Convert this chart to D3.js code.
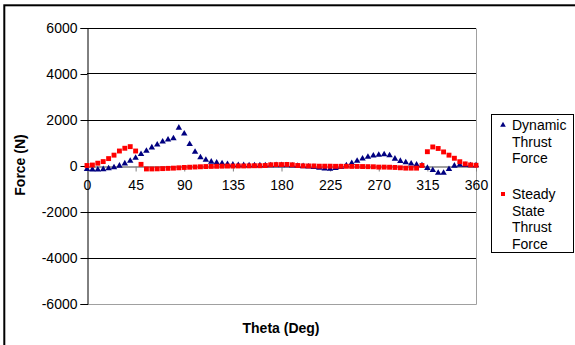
<!DOCTYPE html>
<html lang="en">
  <head>
    <meta charset="UTF-8" />
    <title>Thrust force</title>
    <script src="https://cdn.jsdelivr.net/npm/d3@7"></script>
    <style>
      body { margin: 0; background: #fff; font-family: "Liberation Sans", Arial, sans-serif; }
      svg text { font-family: "Liberation Sans", Arial, sans-serif; }
    </style>
  </head>
  <body>
    <div id="chart"></div>
    <script>
      // angle every 5 degrees, 0..360
      var theta = [
        0, 5, 10, 15, 20, 25, 30, 35, 40, 45, 50, 55, 60, 65, 70, 75, 80, 85, 90, 95,
        100, 105, 110, 115, 120, 125, 130, 135, 140, 145, 150, 155, 160, 165, 170, 175,
        180, 185, 190, 195, 200, 205, 210, 215, 220, 225, 230, 235, 240, 245, 250, 255,
        260, 265, 270, 275, 280, 285, 290, 295, 300, 305, 310, 315, 320, 325, 330, 335,
        340, 345, 350, 355, 360
      ];
      var dynamicThrust = [
        -160, -175, -185, -165, -130, -85, -15, 85, 200, 330, 490, 635, 780, 905, 1035, 1120, 1180, 1640, 1380, 930,
        590, 350, 240, 160, 125, 90, 60, 30, 15, 10, 5, 0, 0, 0, 0, 10,
        10, 0, -10, -20, -35, -50, -70, -100, -135, -150, -120, -70, 0, 100, 200, 300,
        370, 430, 460, 480, 440, 290, 195, 130, 80, 35, 0, -110, -200, -325, -325, -160,
        -15, 30, 15, 5, 0
      ];
      var steadyThrust = [
        0, 20, 100, 170, 300, 450, 630, 750, 820, 630, 50, -150, -150, -145, -135, -125, -115, -100, -85, -75,
        -65, -55, -45, -40, -35, -30, -25, -25, -20, -20, -15, -10, -10, 0, 30, 40,
        40, 45, 30, 0, -15, -20, -20, -30, -30, -30, -35, -35, -35, -40, -40, -45,
        -50, -55, -70, -70, -75, -85, -100, -115, -115, -115, 0, 600, 806, 740, 590, 450,
        315, 165, 70, 25, 10
      ];
      var xTicks = [0, 45, 90, 135, 180, 225, 270, 315, 360];
      var yTicks = [-6000, -4000, -2000, 0, 2000, 4000, 6000];
      var seriesNames = [["Dynamic", "Thrust", "Force"], ["Steady", "State", "Thrust", "Force"]];

      var W = 575, H = 345;
      var svg = d3.select("#chart").append("svg").attr("width", W).attr("height", H);

      // chart border
      svg.append("rect")
        .attr("x", 4.3).attr("y", 5.3)
        .attr("width", 600).attr("height", 400)
        .attr("fill", "none").attr("stroke", "#000").attr("stroke-width", 2);

      var x = d3.scaleLinear().domain([0, 360]).range([87, 476]);
      var y = d3.scaleLinear().domain([-6000, 6000]).range([303.5, 27.5]);

      // gridlines
      svg.append("g")
        .selectAll("line")
        .data(yTicks.filter(function (d) { return d !== 0 && d !== -6000; }))
        .enter()
        .append("line")
        .attr("x1", x(0)).attr("x2", x(360))
        .attr("y1", function (d) { return Math.round(y(d)) + 0.5; })
        .attr("y2", function (d) { return Math.round(y(d)) + 0.5; })
        .attr("stroke", "#000");

      // plot border right / bottom (grey)
      svg.append("path")
        .attr("d", "M" + (x(360) + 0.5) + "," + (Math.round(y(6000)) + 0.5) +
          "V" + (Math.round(y(-6000)) + 0.5) + "H" + x(0))
        .attr("fill", "none").attr("stroke", "#a0a0a0");

      // y axis (plain hyphen for negatives, like the original)
      var yAxis = svg.append("g")
        .attr("transform", "translate(" + (x(0) + 0.5) + ",0.5)")
        .call(d3.axisLeft(y).tickValues(yTicks).tickSize(7).tickPadding(3)
          .tickFormat(function (d) { return String(d); }));
      yAxis.select(".domain").attr("stroke", "#000");
      yAxis.selectAll(".tick line").attr("stroke", "#000");
      yAxis.selectAll("text").style("font-size", "14px").attr("fill", "#000");

      // x axis at zero
      var xAxis = svg.append("g")
        .attr("transform", "translate(0," + (Math.round(y(0)) + 0.5) + ")")
        .call(d3.axisBottom(x).tickValues(xTicks).tickSize(5).tickPadding(9).tickSizeOuter(0));
      xAxis.select(".domain").attr("stroke", "#808080").attr("stroke-width", 1.5);
      xAxis.selectAll(".tick line").attr("stroke", "#808080");
      xAxis.selectAll("text").style("font-size", "14px").attr("fill", "#000");

      var tri = d3.symbol().type(d3.symbolTriangle).size(18);
      var sq = d3.symbol().type(d3.symbolSquare).size(24);

      svg.append("g")
        .selectAll("path")
        .data(theta)
        .enter()
        .append("path")
        .attr("d", tri)
        .attr("transform", function (d, i) { return "translate(" + x(d) + "," + y(dynamicThrust[i]) + ")"; })
        .attr("fill", "#000080");

      svg.append("g")
        .selectAll("path")
        .data(theta)
        .enter()
        .append("path")
        .attr("d", sq)
        .attr("transform", function (d, i) { return "translate(" + x(d) + "," + y(steadyThrust[i]) + ")"; })
        .attr("fill", "#ff0000");

      // axis titles
      svg.append("text")
        .attr("x", 281).attr("y", 333)
        .attr("text-anchor", "middle")
        .style("font-size", "14px").style("font-weight", "bold")
        .text("Theta (Deg)");

      svg.append("text")
        .attr("transform", "translate(25,165) rotate(-90)")
        .attr("text-anchor", "middle")
        .style("font-size", "14px").style("font-weight", "bold")
        .text("Force (N)");

      // legend
      var legend = svg.append("g");
      legend.append("rect")
        .attr("x", 491.5).attr("y", 114.5).attr("width", 82).attr("height", 138)
        .attr("fill", "#fff").attr("stroke", "#000");

      var starts = [125, 194];
      var symbols = [tri.size(14), sq.size(16)];
      var colors = ["#000080", "#ff0000"];
      seriesNames.forEach(function (lines, k) {
        legend.append("path")
          .attr("d", symbols[k]())
          .attr("transform", "translate(503," + starts[k] + ")")
          .attr("fill", colors[k]);
        lines.forEach(function (t, j) {
          legend.append("text")
            .attr("x", 512).attr("y", starts[k] + 5 + j * 16.7)
            .style("font-size", "14px")
            .text(t);
        });
      });
    </script>
  </body>
</html>
